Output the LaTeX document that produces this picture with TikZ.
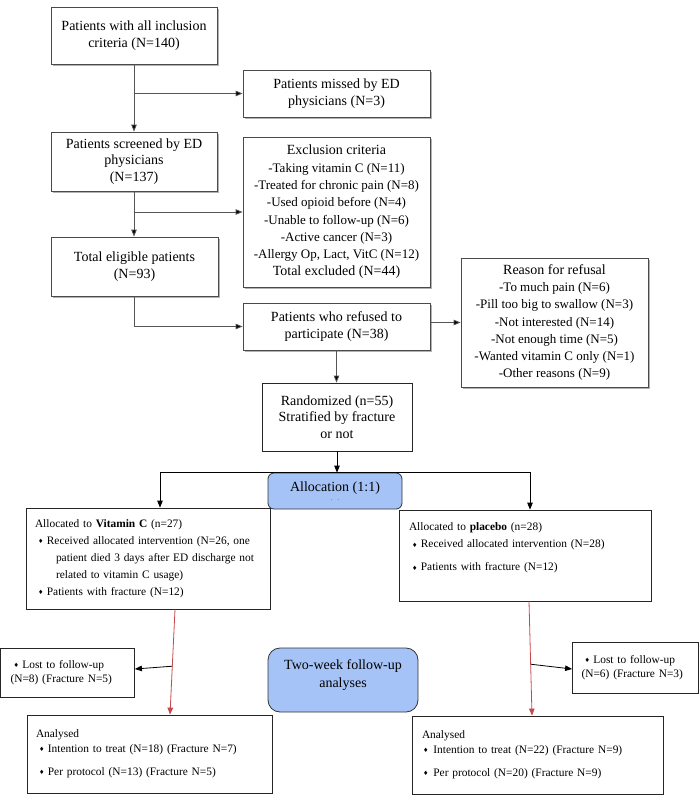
\documentclass[tikz,border=0pt]{standalone}
\usepackage{fontspec}
\setmainfont{Liberation Serif}
\newfontfamily\symf{DejaVu Sans}
\usetikzlibrary{arrows.meta,shadows}
\definecolor{boxline}{HTML}{4A4A4A}
\definecolor{lineg}{HTML}{555555}
\definecolor{bluefill}{HTML}{A6C3F7}
\definecolor{redl}{HTML}{C8484A}
\newcommand\dmd{{\symf\fontsize{6}{6}\selectfont\raisebox{0.8pt}{♦}}}
\newcommand\hd[1]{{\fontsize{14}{17.3}\selectfont #1}}
\begin{document}
\begin{tikzpicture}[x=1pt,y=-1pt,
  topbox/.style={draw=boxline, line width=0.8pt, fill=white,
    drop shadow={shadow xshift=2pt,shadow yshift=-2pt,opacity=0.3,fill=black},
    align=center, inner sep=0pt, font=\fontsize{14}{16.5}\selectfont},
  listbox/.style={topbox, font=\fontsize{13}{17.3}\selectfont},
  plainbox/.style={draw=black!85, line width=0.8pt, fill=white, inner sep=0pt},
  centbox/.style={plainbox, align=center, font=\fontsize{14}{16.5}\selectfont},
  botbox/.style={plainbox, align=left, inner ysep=0pt, font=\fontsize{11.4}{17}\selectfont},
  bluebox/.style={draw=black!80, line width=0.8pt, fill=bluefill, align=center,
    inner sep=0pt, font=\fontsize{14}{18}\selectfont},
  arr/.style={draw=lineg, line width=0.8pt, -{Triangle[length=7pt,width=5.5pt,fill=black]}},
  blk/.style={draw=black, line width=0.8pt, -{Triangle[length=7pt,width=5.5pt]}},
  redarr/.style={draw=redl, line width=0.8pt, -{Triangle[length=7pt,width=5.5pt]}}
]
\fill[white] (0,0) rectangle (700,795);
\useasboundingbox (0,0) rectangle (700,795);

% top section
\node[topbox, minimum width=166pt, minimum height=57pt] (incl) at (134,35.5)
  {Patients with all inclusion\\criteria (N=140)};
\node[topbox, minimum width=187pt, minimum height=47pt] (missed) at (336.5,93.5)
  {Patients missed by ED\\physicians (N=3)};
\node[topbox, minimum width=166pt, minimum height=59pt] (screen) at (134,161.5)
  {Patients screened by ED\\physicians\\(N=137)};
\node[listbox, minimum width=187pt, minimum height=150pt] (excl) at (336.5,212)
  {\hd{Exclusion criteria}\\-Taking vitamin C (N=11)\\-Treated for chronic pain (N=8)\\-Used opioid before (N=4)\\-Unable to follow-up (N=6)\\-Active cancer (N=3)\\-Allergy Op, Lact, VitC (N=12)\\\hd{Total excluded (N=44)}};
\node[topbox, minimum width=167pt, minimum height=59pt] (elig) at (134.5,266.5)
  {Total eligible patients\\(N=93)};
\node[topbox, minimum width=187pt, minimum height=47pt] (refused) at (336.5,326.5)
  {Patients who refused to\\participate (N=38)};
\node[listbox, minimum width=187pt, minimum height=129pt] (reason) at (554.5,322.5)
  {\hd{Reason for refusal}\\-To much pain (N=6)\\-Pill too big to swallow (N=3)\\-Not interested (N=14)\\-Not enough time (N=5)\\-Wanted vitamin C only (N=1)\\-Other reasons (N=9)};
\node[centbox, minimum width=150pt, minimum height=68pt] (rand) at (337,417)
  {Randomized (n=55)\\Stratified by fracture\\or not};

% allocation
\node[bluebox, rounded corners=6pt, minimum width=134pt, minimum height=36pt] (alloc) at (335,491)
  {Allocation (1:1)\\[-9pt]{\fontsize{5}{5}\selectfont .\hspace{6pt}.}};
\node[botbox, inner xsep=9pt, text width=226pt, minimum height=101pt] (vit) at (148,558.5)
  {Allocated to \textbf{Vitamin C} (n=27)\\
   \hspace*{3pt}\dmd\hspace{3.5pt}Received allocated intervention (N=26, one\\
   \hspace*{21pt}patient died 3 days after ED discharge not\\
   \hspace*{21pt}related to vitamin C usage)\\
   \hspace*{3pt}\dmd\hspace{3.5pt}Patients with fracture (N=12)};
\node[botbox, inner xsep=10pt, text width=232pt, minimum height=91pt] (plac) at (525,555.5)
  {Allocated to \textbf{placebo} (n=28)\\
   \hspace*{3pt}\dmd\hspace{3.5pt}Received allocated intervention (N=28)\\[6pt]
   \hspace*{3pt}\dmd\hspace{3.5pt}Patients with fracture (N=12)\\
   \mbox{}};

% follow-up
\node[botbox, inner xsep=10pt, text width=114pt, minimum height=49pt,
  font=\fontsize{11.4}{14.5}\selectfont] (lostL) at (67.5,672.5)
  {\hspace*{3pt}\dmd\hspace{3.5pt}Lost to follow-up\\(N=8) (Fracture N=5)};
\node[bluebox, rounded corners=12pt, minimum width=150pt, minimum height=64pt] (two) at (343,680)
  {Two-week follow-up\\analyses\\[-6pt]\mbox{}};
\node[botbox, inner xsep=9pt, text width=108pt, minimum height=51pt,
  font=\fontsize{11.4}{14.5}\selectfont] (lostR) at (635.5,667.5)
  {\hspace*{3pt}\dmd\hspace{3.5pt}Lost to follow-up\\(N=6) (Fracture N=3)};
\node[botbox, inner xsep=9pt, text width=227pt, minimum height=78pt,
  font=\fontsize{11.4}{15}\selectfont] (anlL) at (149.5,754)
  {Analysed\\
   \hspace*{3pt}\dmd\hspace{3.5pt}Intention to treat (N=18) (Fracture N=7)\\[8pt]
   \hspace*{3pt}\dmd\hspace{3.5pt}Per protocol (N=13) (Fracture N=5)};
\node[botbox, inner xsep=10pt, text width=231pt, minimum height=78pt,
  font=\fontsize{11.4}{15}\selectfont] (anlR) at (537.5,755)
  {Analysed\\
   \hspace*{1pt}\dmd\hspace{5pt}Intention to treat (N=22) (Fracture N=9)\\[8pt]
   \hspace*{1pt}\dmd\hspace{5pt}Per protocol (N=20) (Fracture N=9)};

% connectors
\draw[arr] (incl.south) -- (screen.north);
\draw[arr] (incl.south |- missed.west) -- (missed.west);
\draw[arr] (screen.south) -- (screen.south |- elig.north);
\draw[arr] (screen.south |- excl.west) -- (excl.west);
\draw[arr] (elig.south) |- (refused.west);
\draw[arr] (refused.east |- reason.west) -- (reason.west);
\draw[arr] (refused.south) -- (refused.south |- rand.north);
\coordinate (split) at (rand.south |- alloc.north);
\draw[blk] (rand.south) -- (split);
\draw[blk] (split) -| ([xshift=12pt]vit.north);
\draw[blk] (split) -| ([xshift=5pt]plac.north);
\draw[redarr] ([xshift=27pt]vit.south) -- coordinate[pos=0.54] (mL) ([xshift=20.5pt]anlL.north);
\draw[blk] (mL) -- ([yshift=3.5pt]lostL.east);
\draw[redarr] ([xshift=4pt]plac.south) -- coordinate[pos=0.55] (mR) ([xshift=-5.5pt]anlR.north);
\draw[blk] (mR) -- ([yshift=-1.5pt]lostR.west);
\end{tikzpicture}
\end{document}
